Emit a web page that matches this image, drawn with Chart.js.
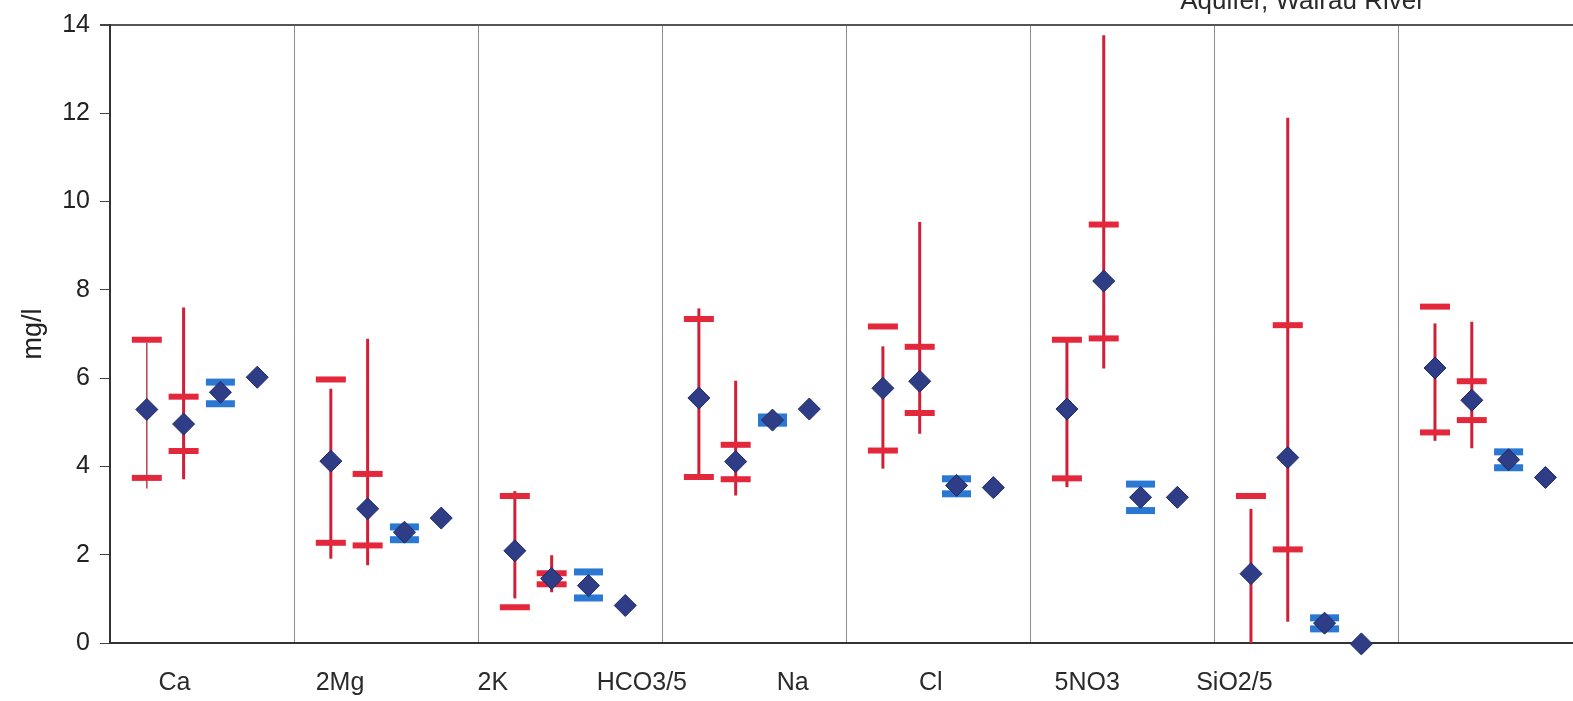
<!DOCTYPE html>
<html>
<head>
<meta charset="utf-8">
<title>Aquifer, Wairau River</title>
<script src="https://cdn.jsdelivr.net/npm/chart.js@4.4.0/dist/chart.umd.min.js"></script>
<style>
  html, body { margin: 0; padding: 0; background: #fff; }
  #wrap { width: 1573px; height: 701px; }
</style>
</head>
<body>
<div id="wrap"><canvas id="grafik" width="1573" height="701"></canvas></div>
<script>
// ---- data (mg/l) ----
const labels = ["Ca", "2Mg", "2K", "HCO3/5", "Na", "Cl", "5NO3", "SiO2/5"];
const title = "Aquifer, Wairau River";
const yTicks = [0, 2, 4, 6, 8, 10, 12, 14];

// first red range: whisker (min-max), bars (lo/hi), diamond (mean)
const aMax  = [6.80, 5.76, 3.44, 7.58, 6.72, 6.82, 3.04, 7.24];
const aHi   = [6.87, 5.97, 3.33, 7.34, 7.17, 6.87, 3.33, 7.62];
const aMean = [5.29, 4.12, 2.09, 5.55, 5.77, 5.30, 1.57, 6.23];
const aLo   = [3.74, 2.27, 0.81, 3.76, 4.36, 3.73, -0.31, 4.77];
const aMin  = [3.50, 1.91, 1.01, 3.74, 3.95, 3.53, -0.60, 4.58];

// second red range
const bMax  = [7.60, 6.89, 1.99, 5.94, 9.54, 13.77, 11.90, 7.28];
const bHi   = [5.58, 3.83, 1.58, 4.49, 6.71, 9.48, 7.20, 5.93];
const bMean = [4.96, 3.04, 1.46, 4.11, 5.93, 8.20, 4.20, 5.50];
const bLo   = [4.35, 2.21, 1.33, 3.71, 5.21, 6.90, 2.12, 5.05];
const bMin  = [3.71, 1.76, 1.15, 3.34, 4.74, 6.22, 0.48, 4.41];

// blue range
const cHi   = [5.91, 2.63, 1.61, 5.12, 3.72, 3.60, 0.57, 4.33];
const cMean = [5.68, 2.51, 1.30, 5.05, 3.57, 3.30, 0.45, 4.15];
const cLo   = [5.42, 2.34, 1.02, 4.98, 3.38, 3.00, 0.32, 3.97];

// single value
const dVal  = [6.02, 2.83, 0.85, 5.30, 3.52, 3.30, -0.02, 3.75];

// where the group names sit under the axis (group units)
const labelAt = [0.35, 1.25, 2.08, 2.89, 3.71, 4.46, 5.31, 6.11];

// ---- helpers ----
const slotX = (g, slot) => g + slot * 0.2;

function points(vals, slot) {
    return vals.map((v, g) => ({ x: slotX(g, slot), y: v }));
}

function whiskers(lo, hi, slot) {
    const out = [];
    lo.forEach((v, g) => {
        const x = slotX(g, slot);
        out.push({ x, y: v }, { x, y: hi[g] }, { x, y: null });
    });
    return out;
}

const FONT = '"Liberation Sans", Arial, sans-serif';

// labels under the axis + clipped title at the top
const textPlugin = {
    id: "texte",
    afterDraw(chart) {
        const ctx = chart.ctx;
        const xs = chart.scales.x;
        const area = chart.chartArea;
        ctx.save();
        ctx.fillStyle = "#2a2a2a";
        ctx.font = "25px " + FONT;
        ctx.textAlign = "center";
        ctx.textBaseline = "middle";
        labels.forEach((t, i) => {
            ctx.fillText(t, xs.getPixelForValue(labelAt[i]), area.bottom + 40);
        });
        ctx.font = "26px " + FONT;
        ctx.textBaseline = "alphabetic";
        ctx.fillText(title, xs.getPixelForValue(6.48), 9);
        ctx.restore();
    }
};

new Chart(document.getElementById("grafik"), {
    type: "scatter",
    data: {
        datasets: [
            {
                label: "diamonds",
                data: [...points(aMean, 1), ...points(bMean, 2), ...points(cMean, 3), ...points(dVal, 4)],
                pointStyle: "rectRot",
                radius: 11,
                backgroundColor: "#2f3c86",
                borderColor: "#1f2966",
                borderWidth: 1,
                clip: false,
                order: 0
            },
            {
                label: "blue bars",
                data: [...points(cHi, 3), ...points(cLo, 3)],
                pointStyle: "line",
                radius: 14.5,
                borderWidth: 7,
                borderColor: "#2a78d2",
                backgroundColor: "#2a78d2",
                order: 1
            },
            {
                label: "red bars",
                data: [...points(aHi, 1), ...points(aLo, 1), ...points(bHi, 2), ...points(bLo, 2)],
                pointStyle: "line",
                radius: 15,
                borderWidth: 6,
                borderColor: "#e3283c",
                backgroundColor: "#e3283c",
                order: 1
            },
            {
                type: "line",
                label: "red range 1",
                data: whiskers(aMin, aMax, 1),
                borderColor: "#cf2038",
                borderWidth: 3,
                pointRadius: 0,
                spanGaps: false,
                segment: {
                    borderWidth: c => c.p0DataIndex === 0 ? 1.5 : 3,
                    borderColor: c => c.p0DataIndex === 0 ? "#b0454f" : "#cf2038"
                },
                order: 2
            },
            {
                type: "line",
                label: "red range 2",
                data: whiskers(bMin, bMax, 2),
                borderColor: "#cf2038",
                borderWidth: 3,
                pointRadius: 0,
                spanGaps: false,
                order: 2
            }
        ]
    },
    options: {
        responsive: false,
        animation: false,
        events: [],
        layout: { autoPadding: false, padding: { top: 24, right: 0, left: 0, bottom: 0 } },
        plugins: {
            legend: { display: false },
            tooltip: { enabled: false }
        },
        scales: {
            x: {
                type: "linear",
                min: 0,
                max: 7.95,
                ticks: { display: false, stepSize: 1 },
                grid: {
                    drawTicks: false,
                    lineWidth: 1,
                    color: c => (c.tick && Number.isInteger(c.tick.value) && c.tick.value > 0) ? "#8c8c8c" : "rgba(0,0,0,0)"
                },
                border: { display: true, color: "#333", width: 2 },
                afterFit: s => { s.height = 58; }
            },
            y: {
                min: 0,
                max: 14,
                afterBuildTicks: s => { s.ticks = yTicks.map(v => ({ value: v })); },
                ticks: {
                    color: "#222",
                    padding: 10,
                    font: { family: FONT, size: 25 }
                },
                grid: {
                    tickLength: 10,
                    tickColor: "#444",
                    lineWidth: c => (c.tick && c.tick.value === 14) ? 2 : 1,
                    color: c => (c.tick && c.tick.value === 14) ? "#555" : "rgba(0,0,0,0)"
                },
                border: { display: true, color: "#333", width: 2 },
                title: {
                    display: true,
                    text: "mg/l",
                    color: "#222",
                    font: { family: FONT, size: 27 },
                    padding: { top: 17, bottom: 0 }
                },
                afterFit: s => { s.width = 110; }
            }
        }
    },
    plugins: [textPlugin]
});
</script>
</body>
</html>
